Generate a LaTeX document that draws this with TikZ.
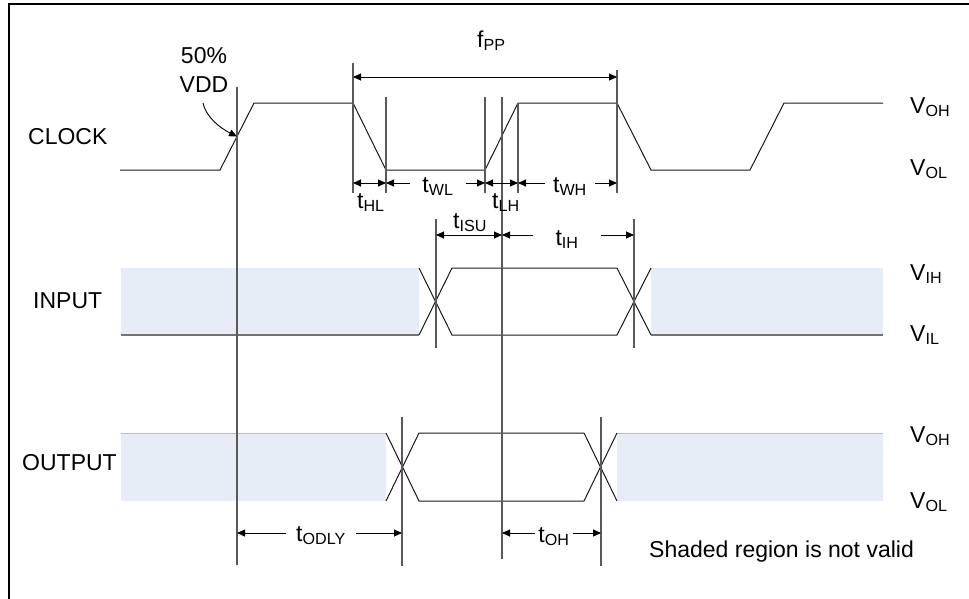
\documentclass[tikz,border=0pt]{standalone}
\usepackage{fontspec}
\setmainfont{Liberation Sans}
\usetikzlibrary{arrows.meta}
\definecolor{shadeblue}{HTML}{E6EDF7}
\definecolor{markgray}{HTML}{5A5A5A}
\begin{document}
\begin{tikzpicture}[x=1pt,y=-1pt,
  wave/.style={draw=black!90,line width=1pt,line join=miter},
  vmark/.style={draw=markgray,line width=1.4pt},
  shadebox/.style={fill=shadeblue,draw=none},
  edgeline/.style={draw=black!55,line width=1.2pt},
  topline/.style={draw=black!25,line width=0.8pt},
  tip/.tip={Triangle[length=8pt,width=7pt]},
  dim/.style={line width=0.9pt,-tip},
  dimboth/.style={line width=0.9pt,tip-tip},
  lbl/.style={font=\fontsize{23}{27}\selectfont,inner sep=0pt,anchor=base west},
  gaplbl/.style={font=\fontsize{23}{27}\selectfont,inner ysep=0pt,inner xsep=#1,anchor=base},
]
\useasboundingbox (0,0) rectangle (969,598);
\draw[line width=2pt] (9,4) rectangle (985,615);

% coordinates for time markers
\coordinate (vAt) at (237,87);  \coordinate (vAb) at (237,565);
\coordinate (vBt) at (353,63);  \coordinate (vBb) at (353,193);
\coordinate (vCt) at (386,97);  \coordinate (vCb) at (386,193);
\coordinate (vDt) at (485,97);  \coordinate (vDb) at (485,193);
\coordinate (vEt) at (502,97);  \coordinate (vEb) at (502,559);
\coordinate (vFt) at (518,103); \coordinate (vFb) at (518,193);
\coordinate (vGt) at (617,70);  \coordinate (vGb) at (617,193);
\coordinate (vHt) at (436,219); \coordinate (vHb) at (436,348);
\coordinate (vIt) at (634,219); \coordinate (vIb) at (634,348);
\coordinate (vJt) at (402,417); \coordinate (vJb) at (402,566);
\coordinate (vKt) at (601,417); \coordinate (vKb) at (601,566);
% rows of dimension arrows
\coordinate (rP) at (0,77);
\coordinate (rA) at (0,183);
\coordinate (rB) at (0,235);
\coordinate (rC) at (0,533);

% shaded regions
\fill[shadebox] (121,268) rectangle (419,335);
\fill[shadebox] (651,268) rectangle (883,335);
\fill[shadebox] (121,433) rectangle (386,501);
\fill[shadebox] (617,433) rectangle (883,501);
\draw[edgeline] (121,335) -- (419,335);
\draw[edgeline] (651,335) -- (883,335);
\draw[topline] (121,433) -- (386,433);
\draw[topline] (617,433) -- (883,433);

% clock
\draw[wave] (120,170) -- (220,170) -- (254,103) -- (353,103) -- (386,170) -- (485,170)
  -- (518,103) -- (617,103) -- (651,170) -- (750,170) -- (784,103) -- (883,103);
% input
\draw[wave] (419,268) -- (452,335) -- (617,335) -- (651,268);
\draw[wave] (419,335) -- (452,268) -- (617,268) -- (651,335);
% output
\draw[wave] (386,433) -- (419,501) -- (584,501) -- (617,433);
\draw[wave] (386,501) -- (419,433) -- (584,433) -- (617,501);

% vertical markers
\foreach \v in {A,B,C,D,E,F,G,H,I,J,K}
  \draw[vmark] (v\v t) -- (v\v b);

% labels
\node[lbl] (clk) at (28,144) {CLOCK};
\node[lbl] (inp) at (33,308) {INPUT};
\node[lbl] (outp) at (22,470) {OUTPUT};
\node[lbl] (voh1) at (910,113) {V\textsubscript{OH}};
\node[lbl] (vol1) at (910,175) {V\textsubscript{OL}};
\node[lbl] (vih) at (910,280) {V\textsubscript{IH}};
\node[lbl] (vil) at (910,341) {V\textsubscript{IL}};
\node[lbl] (voh2) at (910,442) {V\textsubscript{OH}};
\node[lbl] (vol2) at (910,508) {V\textsubscript{OL}};
\node[lbl] (note) at (649,557) {Shaded region is not valid};
\node[lbl,anchor=base] (pct) at (204,63) {50\%};
\node[lbl,anchor=base] (vdd) at (204,92) {VDD};

% 50% arrow
\coordinate (mid50) at (237,136.5);
\draw[line width=0.9pt,-tip] (203,103) .. controls (206,117) and (220,128) .. (mid50);

% fPP
\node[lbl] (fpp) at (477,47) {f\textsubscript{PP}};
\draw[dimboth] (vBt |- rP) -- (vGt |- rP);

% clock row dims
\draw[dimboth] (vBt |- rA) -- (vCt |- rA);
\node[lbl] (thl) at (357,208) {t\textsubscript{HL}};
\node[gaplbl=12pt] (twl) at (438,192) {t\textsubscript{WL}};
\draw[dim] (twl.west |- rA) -- (vCt |- rA);
\draw[dim] (twl.east |- rA) -- (vDt |- rA);
\draw[dimboth] (vDt |- rA) -- (vFt |- rA);
\node[lbl] (tlh) at (492,208) {t\textsubscript{LH}};
\node[gaplbl=8pt] (twh) at (570,192) {t\textsubscript{WH}};
\draw[dim] (twh.west |- rA) -- (vFt |- rA);
\draw[dim] (twh.east |- rA) -- (vGt |- rA);

% input dims
\draw[dimboth] (vHt |- rB) -- (vEt |- rB);
\node[lbl] (tisu) at (453,228) {t\textsubscript{ISU}};
\node[gaplbl=22pt] (tih) at (567,245) {t\textsubscript{IH}};
\draw[dim] (tih.west |- rB) -- (vEt |- rB);
\draw[dim] (tih.east |- rB) -- (vIt |- rB);

% output dims
\node[gaplbl=10pt] (todly) at (321,541) {t\textsubscript{ODLY}};
\draw[dim] (todly.west |- rC) -- (vAt |- rC);
\draw[dim] (todly.east |- rC) -- (vJt |- rC);
\node[gaplbl=3pt] (toh) at (554,542) {t\textsubscript{OH}};
\draw[dim] (toh.west |- rC) -- (vEt |- rC);
\draw[dim] (toh.east |- rC) -- (vKt |- rC);
\end{tikzpicture}
\end{document}
